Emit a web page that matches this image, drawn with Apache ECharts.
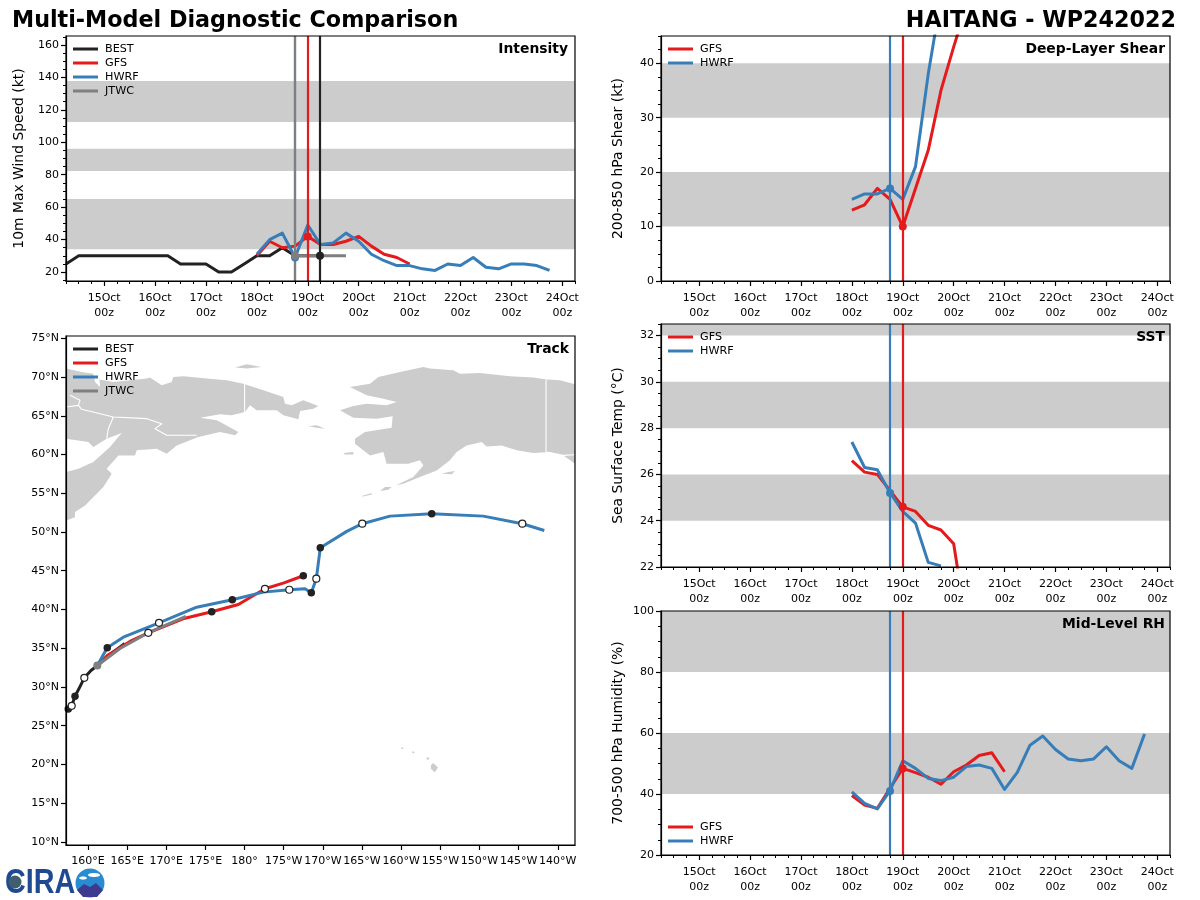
<!DOCTYPE html>
<html>
<head>
<meta charset="utf-8">
<style>
  html, body { margin: 0; background: #fff; }
  #chart { width: 1200px; height: 900px; }
</style>
<script src="https://cdn.jsdelivr.net/npm/echarts@6/dist/echarts.min.js"></script>
</head>
<body>
<div id="chart"></div>
<script>
// days of October, 6-hourly
const bestDays = [14.25, 14.5, 14.75, 15, 15.25, 15.5, 15.75, 16, 16.25, 16.5, 16.75, 17, 17.25, 17.5, 17.75, 18, 18.25, 18.5, 18.75, 19, 19.25];
const modelDays = [18, 18.25, 18.5, 18.75, 19, 19.25, 19.5, 19.75, 20, 20.25, 20.5, 20.75, 21, 21.25, 21.5, 21.75, 22, 22.25, 22.5, 22.75, 23, 23.25, 23.5, 23.75];
const jtwcDays = [18.75, 19, 19.25, 19.5, 19.75];
const dayTicks = [15, 16, 17, 18, 19, 20, 21, 22, 23, 24];

// init times
const bestNow = 19.24, gfsNow = 19, hwrfNow = 18.75, jtwcNow = 18.75;

// intensity (kt)
const bestWind = [25, 30, 30, 30, 30, 30, 30, 30, 30, 25, 25, 25, 20, 20, 25, 30, 30, 35, 30, 30, 30];
const gfsWind = [30, 39, 35, 36, 42, 37, 37, 39, 42, 36, 31, 29, 25];
const hwrfWind = [31, 40, 44, 29, 49, 37, 38, 44, 39, 31, 27, 24, 24, 22, 21, 25, 24, 29, 23, 22, 25, 25, 24, 21];
const jtwcWind = [30, 30, 30, 30, 30];
const windBands = [[34, 65], [82.3, 96], [112.5, 137.8]];
const windTicks = [20, 40, 60, 80, 100, 120, 140, 160];

// deep-layer shear (kt)
const gfsShear = [13, 14, 17, 15, 10, 17, 24, 35, 43, 50.5];
const hwrfShear = [15, 16, 16, 17, 15, 21, 38, 52];
const shearBands = [[10, 20], [30, 40]];
const shearTicks = [0, 10, 20, 30, 40];

// sea surface temp (C)
const gfsSst = [26.6, 26.1, 26.0, 25.3, 24.6, 24.4, 23.8, 23.6, 23.0, 19.5];
const hwrfSst = [27.4, 26.3, 26.2, 25.2, 24.4, 23.9, 22.2, 22.05];
const sstBands = [[24, 26], [28, 30], [32, 34]];
const sstTicks = [22, 24, 26, 28, 30, 32];

// mid-level RH (%)
const gfsRh = [39.5, 36.4, 35.3, 41.9, 48.4, 47, 45.5, 43.2, 47.3, 49.5, 52.6, 53.5, 47.3];
const hwrfRh = [40.7, 36.9, 35.1, 41.1, 50.9, 48.4, 45.1, 44.4, 45.5, 49, 49.5, 48.4, 41.5, 47.1, 56, 59, 54.6, 51.5, 50.9, 51.5, 55.5, 50.9, 48.4, 59.7];
const rhBands = [[40, 60], [80, 100]];
const rhTicks = [20, 40, 60, 80, 100];

// tracks, [lon east, lat]
const bestTrack = [[157.19, 27.08], [157.48, 27.17], [157.92, 27.56], [158.34, 28.8], [158.98, 30.05], [159.53, 31.18], [160.38, 32.12], [161.19, 32.76], [162.8, 34.2], [164.7, 35.6]];
const jtwcTrack = [[161.19, 32.76], [164.09, 34.96], [167.7, 37], [172.5, 39.1]];
const gfsTrack = [[161.19, 32.76], [162.46, 34.06], [165.36, 35.87], [167.7, 36.99], [172.13, 38.8], [175.8, 39.7], [179.2, 40.65], [182.6, 42.67], [184.94, 43.4], [187.5, 44.35]];
const hwrfTrack = [[161.19, 32.76], [162.46, 35.05], [164.51, 36.42], [169.07, 38.28], [173.88, 40.3], [178.43, 41.25], [182.39, 42.24], [185.71, 42.55], [187.71, 42.67], [188.52, 42.16], [189.16, 43.97], [189.67, 47.97], [193.05, 50.08], [195.03, 51.07], [198.57, 52.05], [203.9, 52.36], [210.49, 52.05], [215.47, 51.07], [218.28, 50.2]];
const darkDots = [[157.48, 27.17], [158.34, 28.8], [162.46, 35.05], [178.43, 41.25], [188.52, 42.16], [189.67, 47.97], [203.9, 52.36], [175.8, 39.7], [187.5, 44.35]];
const lightDots = [[157.92, 27.56], [159.53, 31.18], [167.7, 36.99], [169.07, 38.28], [182.6, 42.67], [185.71, 42.55], [189.16, 43.97], [195.03, 51.07], [215.47, 51.07]];
const startDot = [[161.19, 32.76]];
const lonTicks = [160, 165, 170, 175, 180, 185, 190, 195, 200, 205, 210, 215, 220];
const latTicks = [10, 15, 20, 25, 30, 35, 40, 45, 50, 55, 60, 65, 70, 75];

// land, [lon east, lat]
const siberia = [[157.2, 71.09], [159.19, 70.66], [160.68, 70.44], [160.9, 69.37], [161.54, 68.72], [161.45, 69.67], [163.24, 69.37], [167.5, 69.8], [167.92, 69.93], [169.41, 68.94], [170.69, 69.37], [170.9, 70.01], [172.18, 70.1], [175.16, 69.8], [177.71, 69.58], [179.84, 69.15], [182.4, 68.29], [184.95, 67.43], [185.16, 66.57], [186.01, 66.35], [187.5, 67], [189.42, 66.27], [188.78, 65.92], [187.08, 65.62], [186.87, 64.54], [184.95, 65.06], [184.1, 65.71], [181.54, 65.71], [180.69, 66.35], [180.05, 65.49], [178.35, 65.06], [176.86, 65.19], [174.31, 64.76], [176.44, 64.41], [177.29, 63.98], [179.2, 62.91], [178.78, 62.48], [176.86, 62.91], [174.09, 62.26], [171.33, 61.18], [170.05, 60.11], [168.77, 60.75], [166.22, 60.54], [166, 59.89], [163.88, 59.89], [162.39, 58.17], [163.03, 57.52], [161.96, 55.8], [159.62, 53.43], [158.34, 52.57], [158.34, 51.92], [157.2, 51.49], [157.2, 57.74], [158.77, 58.17], [160.68, 59.03], [162.81, 60.97], [164.3, 62.78], [162.39, 62.05], [160.68, 60.97], [160.05, 61.61], [157.2, 62.05]];
const alaska = [[193.46, 68.72], [196.02, 69.15], [197.08, 70.01], [199.85, 70.66], [202.83, 71.3], [203.68, 71.09], [206.66, 70.87], [207.51, 70.44], [210.06, 70.53], [213.9, 70.1], [216.88, 69.93], [218.58, 69.67], [220.28, 69.58], [222.2, 69.07], [222.2, 58.82], [220.71, 59.89], [219, 60.32], [216.88, 60.19], [214.75, 60.54], [212.83, 61.18], [210.92, 61.05], [210.28, 61.61], [208.36, 61.18], [207.08, 60.32], [206.23, 59.25], [204.53, 57.95], [202.4, 57.09], [200.27, 56.23], [199.34, 56.02], [201.55, 57.09], [202.83, 58.6], [202.4, 59.25], [200.91, 58.82], [198.14, 58.82], [197.72, 60.32], [196.02, 59.89], [194.1, 61.4], [194.1, 62.05], [195.38, 62.91], [198.78, 63.47], [198.91, 64.93], [196.87, 64.63], [193.89, 64.76], [192.18, 65.71], [193.89, 66.27], [195.59, 66.57], [198.14, 66.35], [199.42, 66.78], [197.72, 67.21], [195.59, 67.64]];
const wrangel = [[178.78, 71.22], [180.27, 71.65], [182.18, 71.3], [180.27, 71.09]];
const stLawrence = [[188.14, 63.64], [189.2, 63.77], [190.27, 63.34], [189.2, 63.47]];
const nunivak = [[192.61, 60.19], [193.89, 60.32], [193.89, 60.02], [192.82, 60.02]];
const kodiak = [[205.17, 57.52], [206.02, 57.74], [206.87, 57.87], [206.45, 57.44]];
const aleutianEast = [[197.29, 55.28], [197.93, 55.8], [198.78, 55.8], [198.36, 55.46]];
const aleutianWest = [[194.95, 54.64], [196.23, 55.03], [196.23, 54.85], [195.16, 54.59]];
const hawaii = [[204.1, 20.2], [204.7, 19.6], [204.3, 19], [203.8, 19.4], [203.8, 19.9]];
const maui = [[203.2, 20.9], [203.6, 20.9], [203.5, 20.6], [203.3, 20.6]];
const oahu = [[201.4, 21.7], [201.7, 21.6], [201.6, 21.4], [201.4, 21.5]];
const kauai = [[200, 22.2], [200.3, 22.2], [200.2, 22], [200, 22]];
const landShapes = [siberia, alaska, wrangel, stLawrence, nunivak, kodiak, aleutianEast, aleutianWest, hawaii, maui, oahu, kauai];

// borders
const borderA = [[157.2, 66.14], [158.77, 66.35], [159.19, 65.84], [163.24, 64.84], [167.5, 64.63], [169.41, 63.98], [168.56, 63.34], [170.05, 62.48], [173.88, 62.48]];
const borderB = [[163.24, 64.84], [162.6, 63.34], [162.39, 62.05]];
const borderC = [[157.7, 67.64], [158.98, 67], [158.77, 66.35]];
const borderD = [[180, 69.15], [180, 65.5]];
const borderE = [[218.5, 69.67], [218.5, 60.33], [220.71, 59.89], [222.2, 59.98]];
const borderLines = [borderA, borderB, borderC, borderD, borderE];

const RED = '#e41a1c', BLUE = '#377eb8', BLACK = '#222222', GREY = '#7f7f7f', BAND = '#cccccc';
const FONT = 'DejaVu Sans';

const option = {
  animation: false,
  backgroundColor: '#fff',
  textStyle: { fontFamily: FONT, color: '#000' },
  title: [],
  legend: [],
  grid: [],
  xAxis: [],
  yAxis: [],
  series: [],
  graphic: []
};

const zip = (xs, ys) => ys.map((y, i) => [xs[i], y]);

// tick positions for the short ticks
const steps = function(from, to, step) {
  const out = [];
  for (let v = from; v <= to + 1e-9; v += step) out.push(v);
  return out;
};

const addPanel = function(rect, xCfg, yCfg, title, legendNames, legendTop, titleShift) {
  const g = option.grid.length;
  option.grid.push({
    left: rect[0], top: rect[1], width: rect[2] - rect[0], height: rect[3] - rect[1],
    show: true, z: 10, backgroundColor: 'transparent', borderColor: '#000', borderWidth: 1.2
  });
  const xi = option.xAxis.length;
  const yi = option.yAxis.length;
  option.xAxis.push({
    gridIndex: g, type: 'value', position: 'bottom', z: 10, min: xCfg.min, max: xCfg.max,
    splitLine: { show: false },
    axisLine: { onZero: false, lineStyle: { color: '#000', width: 1.2 } },
    axisTick: { length: 5, lineStyle: { color: '#000', width: 1.2 }, customValues: xCfg.ticks },
    axisLabel: { color: '#000', fontFamily: FONT, fontSize: 11, margin: xCfg.margin, lineHeight: 15.5, customValues: xCfg.ticks, formatter: xCfg.fmt, hideOverlap: false, showMinLabel: true, showMaxLabel: true }
  });
  option.yAxis.push({
    gridIndex: g, type: 'value', position: 'left', z: 10, min: yCfg.min, max: yCfg.max,
    name: yCfg.name, nameLocation: 'middle', nameGap: yCfg.gap,
    nameTextStyle: { color: '#000', fontFamily: FONT, fontSize: 13.9 },
    splitLine: { show: false },
    axisLine: { onZero: false, lineStyle: { color: '#000', width: 1.2 } },
    axisTick: { length: 5, lineStyle: { color: '#000', width: 1.2 }, customValues: yCfg.ticks },
    axisLabel: { color: '#000', fontFamily: FONT, fontSize: 11, margin: 7, padding: [2, 0, 0, 0], customValues: yCfg.ticks, formatter: yCfg.fmt }
  });
  // short ticks go on twin axes
  if (xCfg.minor) {
    option.xAxis.push({
      gridIndex: g, type: 'value', position: 'bottom', z: 10, min: xCfg.min, max: xCfg.max,
      splitLine: { show: false }, axisLine: { show: false, onZero: false }, axisLabel: { show: false },
      axisTick: { length: 3, lineStyle: { color: '#000', width: 1 }, customValues: xCfg.minor }
    });
  }
  if (yCfg.minor) {
    option.yAxis.push({
      gridIndex: g, type: 'value', position: 'left', z: 10, min: yCfg.min, max: yCfg.max,
      splitLine: { show: false }, axisLine: { show: false, onZero: false }, axisLabel: { show: false },
      axisTick: { length: 3, lineStyle: { color: '#000', width: 1 }, customValues: yCfg.minor }
    });
  }
  option.title.push({
    text: title, right: 1200 - rect[2] + 5 + (titleShift || 0), top: rect[1] + 6,
    textStyle: { fontFamily: FONT, fontWeight: 'bold', fontSize: 13.9, color: '#000' }, padding: 0
  });
  option.legend.push({
    data: legendNames, orient: 'vertical', left: rect[0] + 7, top: legendTop, icon: 'rect', padding: 0,
    itemWidth: 25, itemHeight: 3, itemGap: 0, selectedMode: false,
    textStyle: { fontFamily: FONT, fontSize: 11.2, lineHeight: 14, color: '#000', padding: [0, 0, 0, 2] }
  });
  return { xi: xi, yi: yi };
};

const lineSeries = function(ax, name, color, data, width, now) {
  const s = {
    type: 'line', name: name, xAxisIndex: ax.xi, yAxisIndex: ax.yi, data: data,
    showSymbol: false, symbol: 'none', silent: true, clip: true, z: 4,
    lineStyle: { color: color, width: width || 3, cap: 'butt', join: 'round' }, itemStyle: { color: color }
  };
  if (now !== undefined) {
    s.markLine = {
      silent: true, symbol: 'none', label: { show: false }, animation: false,
      lineStyle: { color: color, width: 2.2, type: 'solid' }, data: [{ xAxis: now }]
    };
  }
  return s;
};

const dotSeries = function(ax, color, data, size, border) {
  return {
    type: 'scatter', xAxisIndex: ax.xi, yAxisIndex: ax.yi, data: data, symbol: 'circle', symbolSize: size, silent: true, z: 6,
    itemStyle: { color: color, borderColor: border || color, borderWidth: border ? 1.2 : 0, opacity: 1 }
  };
};

const bandSeries = function(ax, bands, xMin, xMax) {
  return {
    type: 'line', xAxisIndex: ax.xi, yAxisIndex: ax.yi, data: [], silent: true, z: 1,
    markArea: {
      silent: true, animation: false, itemStyle: { color: BAND, borderWidth: 0 },
      data: bands.map(b => [{ xAxis: xMin, yAxis: b[0] }, { xAxis: xMax, yAxis: b[1] }])
    }
  };
};

const dayFmt = v => Number.isInteger(v) ? v + 'Oct\n00z' : '';
const timeAxis = { min: 14.25, max: 24.25, ticks: dayTicks, minor: steps(14.25, 24.25, 0.25), fmt: dayFmt, margin: 9 };

// Intensity
const ax1 = addPanel([66, 36, 575, 281], timeAxis,
  { min: 14.5, max: 165.5, ticks: windTicks, minor: steps(15, 165, 5), name: '10m Max Wind Speed (kt)', gap: 40 },
  'Intensity', ['BEST', 'GFS', 'HWRF', 'JTWC'], 42, 2);
option.series.push(
  bandSeries(ax1, windBands, 14.25, 24.25),
  lineSeries(ax1, 'BEST', BLACK, zip(bestDays, bestWind), 3, bestNow),
  lineSeries(ax1, 'GFS', RED, zip(modelDays, gfsWind), 3, gfsNow),
  lineSeries(ax1, 'HWRF', BLUE, zip(modelDays, hwrfWind), 3, hwrfNow),
  lineSeries(ax1, 'JTWC', GREY, zip(jtwcDays, jtwcWind), 3, jtwcNow),
  dotSeries(ax1, BLACK, [[bestNow, 30]], 8),
  dotSeries(ax1, RED, [[gfsNow, 42]], 8),
  dotSeries(ax1, BLUE, [[hwrfNow, 29]], 8),
  dotSeries(ax1, GREY, [[jtwcNow, 30]], 8)
);

// Track
const lonFmt = v => v < 180 ? v + '°E' : v === 180 ? '180°' : (360 - v) + '°W';
const latFmt = v => v + '°N';
const ax2 = addPanel([66, 336, 575, 845],
  { min: 157.19, max: 222.2, ticks: lonTicks, fmt: lonFmt, margin: 8 },
  { min: 9.6, max: 75.3, ticks: latTicks, fmt: latFmt, name: '', gap: 30 },
  'Track', ['BEST', 'GFS', 'HWRF', 'JTWC'], 342, 1);
option.series.push({
  type: 'custom', xAxisIndex: ax2.xi, yAxisIndex: ax2.yi, silent: true, clip: true, z: 1,
  data: landShapes.map((p, i) => [p[0][0], p[0][1], i]),
  renderItem: (params, api) => ({
    type: 'polygon',
    shape: { points: landShapes[api.value(2)].map(p => api.coord(p)) },
    style: { fill: BAND }
  })
});
borderLines.forEach(b => {
  const s = lineSeries(ax2, '', '#ffffff', b, 1.1);
  s.z = 2;
  option.series.push(s);
});
option.series.push(
  lineSeries(ax2, 'BEST', BLACK, bestTrack),
  lineSeries(ax2, 'GFS', RED, gfsTrack),
  lineSeries(ax2, 'HWRF', BLUE, hwrfTrack),
  lineSeries(ax2, 'JTWC', GREY, jtwcTrack),
  dotSeries(ax2, BLACK, darkDots, 7.5),
  dotSeries(ax2, '#ffffff', lightDots, 7, BLACK),
  dotSeries(ax2, GREY, startDot, 8)
);

// Deep-layer shear
const ax3 = addPanel([661, 36, 1170, 281], timeAxis,
  { min: 0, max: 45, ticks: shearTicks, minor: steps(0, 45, 2.5), name: '200-850 hPa Shear (kt)', gap: 36 },
  'Deep-Layer Shear', ['GFS', 'HWRF'], 42);
option.series.push(
  bandSeries(ax3, shearBands, 14.25, 24.25),
  lineSeries(ax3, 'GFS', RED, zip(modelDays, gfsShear), 3, gfsNow),
  lineSeries(ax3, 'HWRF', BLUE, zip(modelDays, hwrfShear), 3, hwrfNow),
  dotSeries(ax3, RED, [[gfsNow, 10]], 8),
  dotSeries(ax3, BLUE, [[hwrfNow, 17]], 8)
);

// SST
const ax4 = addPanel([661, 324, 1170, 567], timeAxis,
  { min: 22, max: 32.5, ticks: sstTicks, minor: steps(22, 32.5, 0.5), name: 'Sea Surface Temp (°C)', gap: 36 },
  'SST', ['GFS', 'HWRF'], 330);
option.series.push(
  bandSeries(ax4, sstBands, 14.25, 24.25),
  lineSeries(ax4, 'GFS', RED, zip(modelDays, gfsSst), 3, gfsNow),
  lineSeries(ax4, 'HWRF', BLUE, zip(modelDays, hwrfSst), 3, hwrfNow),
  dotSeries(ax4, RED, [[gfsNow, 24.6]], 8),
  dotSeries(ax4, BLUE, [[hwrfNow, 25.2]], 8)
);

// Mid-level RH
const ax5 = addPanel([661, 611, 1170, 855], timeAxis,
  { min: 20, max: 100, ticks: rhTicks, minor: steps(20, 100, 5), name: '700-500 hPa Humidity (%)', gap: 36 },
  'Mid-Level RH', ['GFS', 'HWRF'], 820);
option.series.push(
  bandSeries(ax5, rhBands, 14.25, 24.25),
  lineSeries(ax5, 'GFS', RED, zip(modelDays, gfsRh), 3, gfsNow),
  lineSeries(ax5, 'HWRF', BLUE, zip(modelDays, hwrfRh), 3, hwrfNow),
  dotSeries(ax5, RED, [[gfsNow, 48.4]], 8),
  dotSeries(ax5, BLUE, [[hwrfNow, 41]], 8)
);

// figure titles
option.title.push(
  { text: 'Multi-Model Diagnostic Comparison', left: 12, top: 10, padding: 0, textStyle: { fontFamily: FONT, fontWeight: 'bold', fontSize: 22.25, color: '#000' } },
  { text: 'HAITANG - WP242022', right: 24, top: 10, padding: 0, textStyle: { fontFamily: FONT, fontWeight: 'bold', fontSize: 22.25, color: '#000' } }
);

// CIRA logo
option.graphic = [
  { type: 'text', x: 5, y: 866, scaleX: 0.82, style: { text: 'CIRA', fill: '#1f4a92', font: 'bold 35px "Liberation Sans"' } },
  { type: 'circle', shape: { cx: 15, cy: 882, r: 6.5 }, style: { fill: '#3f5f6f' } },
  { type: 'circle', shape: { cx: 90, cy: 883, r: 14.5 }, style: { fill: '#2a8cd0' } },
  { type: 'ellipse', shape: { cx: 94, cy: 875, rx: 6, ry: 2 }, style: { fill: '#ffffff' } },
  { type: 'ellipse', shape: { cx: 83, cy: 878, rx: 4, ry: 1.5 }, style: { fill: '#ffffff' } },
  { type: 'polygon', shape: { points: [[77, 890], [84, 884], [90, 887], [96, 883], [103, 890], [97, 897], [83, 897]] }, style: { fill: '#3d3a90' } }
];

const chart = echarts.init(document.getElementById('chart'));
chart.setOption(option);
</script>
</body>
</html>
